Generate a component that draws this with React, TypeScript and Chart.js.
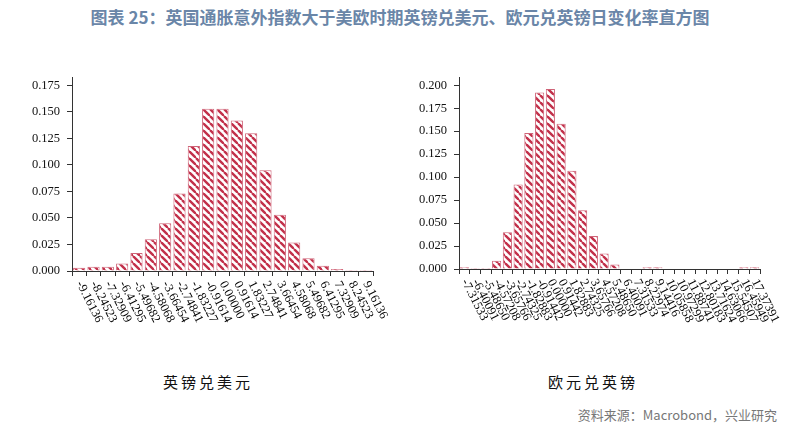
import React, { useEffect, useRef } from "react";
import { Chart, registerables } from "chart.js";

Chart.register(...registerables);

// ---- data ----
const gbpUsdLabels = [
  "-9.16136", "-8.24523", "-7.32909", "-6.41295", "-5.49682", "-4.58068", "-3.66454",
  "-2.74841", "-1.83227", "-0.91614", "0.00000", "0.91614", "1.83227", "2.74841",
  "3.66454", "4.58068", "5.49682", "6.41295", "7.32909", "8.24523", "9.16136",
];
const gbpUsdValues = [
  0.003, 0.004, 0.004, 0.007, 0.017, 0.030, 0.045, 0.073, 0.118, 0.153, 0.153,
  0.142, 0.130, 0.095, 0.053, 0.027, 0.012, 0.005, 0.002, 0.001, 0.001,
];

const eurGbpLabels = [
  "-7.31533", "-6.40091", "-5.48650", "-4.57208", "-3.65766", "-2.74325", "-1.82883",
  "-0.91442", "0.00000", "0.91442", "1.82883", "2.74325", "3.65766", "4.57208",
  "5.48650", "6.40091", "7.31533", "8.22974", "9.14416", "10.05858", "10.97299",
  "11.88741", "12.80183", "13.71624", "14.63066", "15.54507", "16.45949", "17.37391",
];
const eurGbpValues = [
  0.002, 0.001, 0.001, 0.009, 0.040, 0.092, 0.148, 0.192, 0.196, 0.158, 0.107,
  0.064, 0.036, 0.017, 0.005, 0.0005, 0.0005, 0.002, 0.002, 0.0005, 0.0005,
  0.0005, 0.0005, 0.0005, 0.0005, 0.0005, 0.002, 0.002,
];

const titleText = "图表 25：英国通胀意外指数大于美欧时期英镑兑美元、欧元兑英镑日变化率直方图";
const leftCaption = "英镑兑美元";
const rightCaption = "欧元兑英镑";
const sourceText = "资料来源：Macrobond，兴业研究";

const STRIPE = "#c2304a";
const BORDER = "#cf6478";
const AXIS = "#333333";

function makePattern(): CanvasPattern | string {
  const w = 7;
  const h = 7;
  const c = document.createElement("canvas");
  c.width = w;
  c.height = h;
  const ctx = c.getContext("2d");
  if (!ctx) return STRIPE;
  ctx.fillStyle = "#ffffff";
  ctx.fillRect(0, 0, w, h);
  ctx.strokeStyle = STRIPE;
  ctx.lineWidth = 2.4;
  for (const dx of [-w, 0, w]) {
    ctx.beginPath();
    ctx.moveTo(dx, 0);
    ctx.lineTo(dx + w, h);
    ctx.stroke();
  }
  const p = ctx.createPattern(c, "repeat");
  return p || STRIPE;
}

const rotatedLabels = {
  id: "rotatedLabels",
  afterDraw(chart: any) {
    const xs = chart.scales.x;
    const ctx = chart.ctx;
    ctx.save();
    ctx.font = '12.5px "Liberation Serif"';
    ctx.fillStyle = "#000";
    ctx.textAlign = "left";
    ctx.textBaseline = "middle";
    (chart.data.labels as string[]).forEach((l, i) => {
      const x = xs.getPixelForValue(i);
      const y = xs.top + 11;
      ctx.save();
      ctx.translate(x, y);
      ctx.rotate((63 * Math.PI) / 180);
      ctx.fillText(l, 0, 0);
      ctx.restore();
    });
    ctx.restore();
  },
};

type HistProps = {
  labels: string[];
  values: number[];
  yMax: number;
  yWidth: number;
  padRight: number;
  xHeight: number;
  left: number;
};

function Histogram({ labels, values, yMax, yWidth, padRight, xHeight, left }: HistProps) {
  const ref = useRef<HTMLCanvasElement | null>(null);
  useEffect(() => {
    if (!ref.current) return;
    const pattern = makePattern();
    const chart = new Chart(ref.current, {
      type: "bar",
      data: {
        labels,
        datasets: [
          {
            data: values,
            backgroundColor: pattern as any,
            borderColor: BORDER,
            borderWidth: 1,
            barPercentage: 0.85,
            categoryPercentage: 1,
          },
        ],
      },
      options: {
        animation: false,
        responsive: true,
        maintainAspectRatio: false,
        layout: { padding: { top: 17, right: padRight, bottom: 0, left: 0 } },
        plugins: { legend: { display: false }, tooltip: { enabled: false } },
        scales: {
          x: {
            grid: {
              display: true,
              drawOnChartArea: false,
              drawTicks: true,
              tickLength: 5,
              color: AXIS,
              offset: true,
            },
            border: { display: true, color: AXIS, width: 1 },
            ticks: { display: false },
            afterFit: (s: any) => {
              s.height = xHeight;
            },
          },
          y: {
            min: 0,
            max: yMax,
            grid: {
              display: true,
              drawOnChartArea: false,
              drawTicks: true,
              tickLength: 5,
              color: AXIS,
            },
            border: { display: true, color: AXIS, width: 1 },
            ticks: {
              stepSize: 0.025,
              includeBounds: false,
              padding: 7,
              color: "#111",
              font: { family: "Liberation Serif", size: 12.5 },
              callback: (v: any) => Number(v).toFixed(3),
            },
            afterFit: (s: any) => {
              s.width = yWidth;
            },
          },
        },
      },
      plugins: [rotatedLabels],
    });
    return () => chart.destroy();
  }, []);
  return (
    <div style={{ position: "absolute", left, top: 60, width: 400, height: 300 }}>
      <canvas ref={ref} />
    </div>
  );
}

export default function App() {
  return (
    <div
      style={{
        position: "fixed",
        left: 0,
        top: 0,
        width: 800,
        height: 431,
        background: "#fff",
        overflow: "hidden",
      }}
    >
      <div
        style={{
          position: "absolute",
          left: 0,
          top: 5,
          width: 800,
          textAlign: "center",
          fontFamily: '"Noto Sans CJK SC", sans-serif',
          fontWeight: 700,
          fontSize: 17,
          lineHeight: "24px",
          color: "#6a86a8",
        }}
      >
        {titleText}
      </div>
      <Histogram
        labels={gbpUsdLabels}
        values={gbpUsdValues}
        yMax={0.183}
        yWidth={72}
        padRight={27}
        xHeight={89}
        left={0}
      />
      <Histogram
        labels={eurGbpLabels}
        values={eurGbpValues}
        yMax={0.209}
        yWidth={59}
        padRight={40}
        xHeight={91}
        left={400}
      />
      <div
        style={{
          position: "absolute",
          left: 163,
          top: 371,
          fontFamily: '"Noto Sans CJK SC", sans-serif',
          fontSize: 15,
          lineHeight: "22px",
          letterSpacing: 3,
          color: "#111",
        }}
      >
        {leftCaption}
      </div>
      <div
        style={{
          position: "absolute",
          left: 548,
          top: 371,
          fontFamily: '"Noto Sans CJK SC", sans-serif',
          fontSize: 15,
          lineHeight: "22px",
          letterSpacing: 3,
          color: "#111",
        }}
      >
        {rightCaption}
      </div>
      <div
        style={{
          position: "absolute",
          right: 23,
          top: 405,
          fontFamily: '"Noto Sans CJK SC", sans-serif',
          fontSize: 13,
          lineHeight: "20px",
          color: "#777",
        }}
      >
        {sourceText}
      </div>
    </div>
  );
}
